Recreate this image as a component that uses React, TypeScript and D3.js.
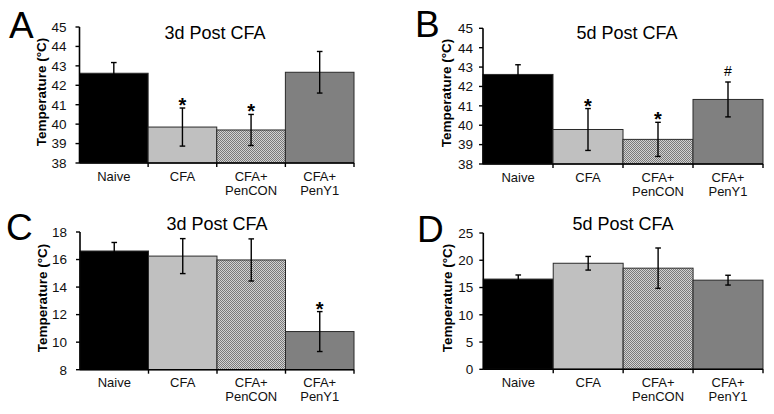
import React from "react";
import * as d3 from "d3";

const categories = ["Naive", "CFA", "CFA+\nPenCON", "CFA+\nPenY1"];

const panelLetters = ["A", "B", "C", "D"];
const panelTitles = ["3d Post CFA", "5d Post CFA", "3d Post CFA", "5d Post CFA"];

const valuesA = [42.62, 39.85, 39.7, 42.67];
const errorsA = [0.55, 0.98, 0.8, 1.07];
const marksA = ["", "*", "*", ""];

const valuesB = [42.62, 39.78, 39.27, 41.33];
const errorsB = [0.5, 1.08, 0.88, 0.9];
const marksB = ["", "*", "*", "#"];

const valuesC = [16.62, 16.25, 15.97, 10.77];
const errorsC = [0.62, 1.27, 1.53, 1.45];
const marksC = ["", "", "", "*"];

const valuesD = [16.55, 19.45, 18.55, 16.35];
const errorsD = [0.75, 1.25, 3.7, 0.9];
const marksD = ["", "", "", ""];

const domainsY = [[38, 45], [38, 45], [8, 18], [0, 25]];
const tickSteps = [1, 1, 2, 5];

const FONT = "'Liberation Sans', Arial, sans-serif";
const fills = ["#000000", "#c0c0c0", "url(#hatch)", "#808080"];

type Layout = { ax: number; right: number; top: number; bottom: number; letterX: number; letterY: number; titleX: number; titleY: number; labelX: number; labelY: number; tickGap: number };

const layouts: Layout[] = [
  { ax: 79.5, right: 354, top: 27, bottom: 163, letterX: 9, letterY: 38, titleX: 215, titleY: 39, labelX: 41, labelY: 92, tickGap: 13 },
  { ax: 483, right: 763, top: 28.3, bottom: 164, letterX: 415, letterY: 37, titleX: 627, titleY: 39, labelX: 446.5, labelY: 93, tickGap: 10 },
  { ax: 80, right: 354, top: 232, bottom: 369.7, letterX: 6, letterY: 240, titleX: 217, titleY: 230, labelX: 42.5, labelY: 298, tickGap: 13 },
  { ax: 483.3, right: 763, top: 233, bottom: 369.3, letterX: 417, letterY: 242, titleX: 623, titleY: 230, labelX: 447, labelY: 298, tickGap: 10 },
];

const dataSets = [
  { v: valuesA, e: errorsA, m: marksA },
  { v: valuesB, e: errorsB, m: marksB },
  { v: valuesC, e: errorsC, m: marksC },
  { v: valuesD, e: errorsD, m: marksD },
];

function Panel({ idx }: { idx: number }) {
  const L = layouts[idx];
  const ds = dataSets[idx];
  const [d0, d1] = domainsY[idx];
  const x = d3.scaleBand<string>().domain(categories).range([L.ax, L.right]).padding(0);
  const y = d3.scaleLinear().domain([d0, d1]).range([L.bottom, L.top]);
  const ticks = d3.range(d0, d1 + 0.001, tickSteps[idx]);
  const bw = x.bandwidth();
  return (
    <g>
      <text x={L.letterX} y={L.letterY} fontFamily={FONT} fontSize={37} fill="#000">{panelLetters[idx]}</text>
      <text x={L.titleX} y={L.titleY} fontFamily={FONT} fontSize={18} textAnchor="middle" fill="#000">{panelTitles[idx]}</text>
      <text transform={`translate(${L.labelX},${L.labelY}) rotate(-90)`} fontFamily={FONT} fontSize={13.5} fontWeight="bold" textAnchor="middle" dominantBaseline="central" fill="#000">Temperature (°C)</text>
      {categories.map((c, i) => {
        const x0 = x(c)!;
        const yv = y(ds.v[i]);
        return (
          <rect key={"b" + i} x={x0} y={yv} width={bw} height={L.bottom - yv} fill={fills[i]} stroke="#2a2a2a" strokeWidth={1} />
        );
      })}
      {categories.map((c, i) => {
        const cx = x(c)! + bw / 2;
        const yHi = y(ds.v[i] + ds.e[i]);
        const yLo = y(ds.v[i] - ds.e[i]);
        return (
          <g key={"e" + i} stroke="#000" strokeWidth={1.4}>
            <line x1={cx} x2={cx} y1={yHi} y2={yLo} />
            <line x1={cx - 2.8} x2={cx + 2.8} y1={yHi} y2={yHi} />
            <line x1={cx - 2.8} x2={cx + 2.8} y1={yLo} y2={yLo} />
          </g>
        );
      })}
      {categories.map((c, i) => {
        const cx = x(c)! + bw / 2;
        const yHi = y(ds.v[i] + ds.e[i]);
        const m = ds.m[i];
        if (!m) return null;
        if (m === "*") {
          return <text key={"m" + i} x={cx} y={yHi + 4} fontFamily={FONT} fontSize={20} fontWeight="bold" textAnchor="middle" fill="#000">*</text>;
        }
        return <text key={"m" + i} x={cx} y={yHi - 5.5} fontFamily={FONT} fontSize={14} textAnchor="middle" fill="#000">{m}</text>;
      })}
      {/* y axis */}
      <line x1={L.ax} x2={L.ax} y1={L.top} y2={L.bottom} stroke="#000" strokeWidth={1.6} />
      {ticks.map((t) => (
        <g key={"t" + t}>
          <line x1={L.ax - 4} x2={L.ax} y1={y(t)} y2={y(t)} stroke="#000" strokeWidth={1.4} />
          <text x={L.ax - L.tickGap} y={y(t)} dy="0.36em" fontFamily={FONT} fontSize={13.5} textAnchor="end" fill="#111">{t}</text>
        </g>
      ))}
      {/* x axis */}
      <line x1={L.ax} x2={L.right} y1={L.bottom} y2={L.bottom} stroke="#000" strokeWidth={1.6} />
      {categories.map((c, i) => {
        const xe = x(c)! + bw;
        return <line key={"xt" + i} x1={xe} x2={xe} y1={L.bottom} y2={L.bottom + 4} stroke="#000" strokeWidth={1.4} />;
      })}
      {categories.map((c, i) => {
        const cx = x(c)! + bw / 2;
        const lines = c.split("\n");
        return (
          <text key={"xl" + i} x={cx} y={L.bottom + 17.5} fontFamily={FONT} fontSize={13} textAnchor="middle" fill="#111">
            {lines.map((ln, j) => (
              <tspan key={j} x={cx} dy={j === 0 ? 0 : 14}>{ln}</tspan>
            ))}
          </text>
        );
      })}
    </g>
  );
}

export default function App() {
  return (
    <svg width={774} height={414} style={{ position: "absolute", left: 0, top: 0, background: "#fff" }}>
      <defs>
        <pattern id="hatch" width={2} height={2} patternUnits="userSpaceOnUse">
          <rect width={2} height={2} fill="#d2d2d2" />
          <rect width={1} height={1} fill="#7a7a7a" />
          <rect x={1} y={1} width={1} height={1} fill="#7a7a7a" />
        </pattern>
      </defs>
      <rect width={774} height={414} fill="#fff" />
      {[0, 1, 2, 3].map((i) => <Panel key={i} idx={i} />)}
    </svg>
  );
}
